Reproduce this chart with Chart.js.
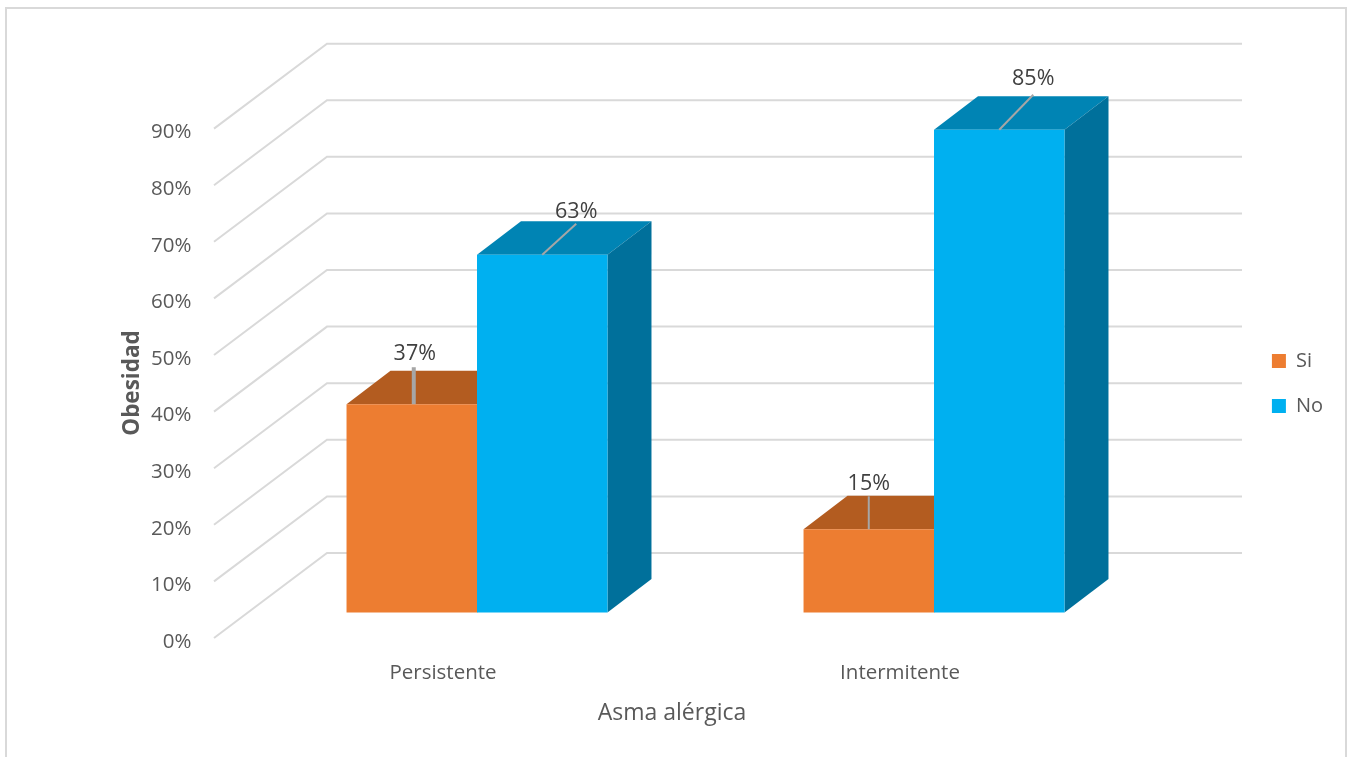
<!DOCTYPE html>
<html>
<head>
<meta charset="utf-8">
<script src="https://cdn.jsdelivr.net/npm/chart.js@4"></script>
<style>
  html, body { margin: 0; background: #fff; overflow: hidden; }
  #frame { position: absolute; left: 5px; top: 7px; width: 1342px; height: 760px; border: 2px solid #d9d9d9; box-sizing: border-box; }
  canvas { position: absolute; left: 0; top: 0; }
</style>
</head>
<body>
<div id="frame"></div>
<canvas id="asmaChart" width="1349" height="757"></canvas>
<script>
const categories = ['Persistente', 'Intermitente'];
const siValues = [36.8, 14.7];
const noValues = [63.2, 85.3];
const yTicks = [0, 10, 20, 30, 40, 50, 60, 70, 80, 90];
const xTitle = 'Asma alérgica';
const yTitle = 'Obesidad';

const font = 'Open Sans';
const textColor = '#595959';

// the fake 3D look: front face is the real bar, the rest is drawn around it
const wallFrontX = 214, wallBackX = 327, wallRightX = 1242;
const wallFrontDy = 25.5, wallBackDy = -59.5;
const depthX = 44, depthY = 33.5;
const faceColors = [
  { top: '#b35c20', side: '#b35c20' },
  { top: '#0084b4', side: '#00709b' }
];
// label shift from the bar centre and top, per dataset and per bar
const labelPlaces = [
  [{ dx: 3, dy: 50, lineX: 2, lineTop: 37, lineW: 4 }, { dx: 0, dy: 45, lineX: 0, lineTop: 33, lineW: 2 }],
  [{ dx: 34, dy: 43, lineX: 34, lineTop: 31, lineW: 2 }, { dx: 34, dy: 51, lineX: 34, lineTop: 35, lineW: 2 }]
];

const wall3d = {
  id: 'wall3d',
  beforeDatasetsDraw(chart) {
    const ctx = chart.ctx;
    const y = chart.scales.y;
    ctx.save();
    ctx.strokeStyle = '#d9d9d9';
    ctx.lineWidth = 2;
    yTicks.forEach(v => {
      const py = y.getPixelForValue(v);
      ctx.beginPath();
      ctx.moveTo(wallFrontX, py + wallFrontDy);
      ctx.lineTo(wallBackX, py + wallBackDy);
      ctx.lineTo(wallRightX, py + wallBackDy);
      ctx.stroke();
    });
    chart.data.datasets.forEach((ds, i) => {
      chart.getDatasetMeta(i).data.forEach(bar => {
        const l = bar.x - bar.width / 2, r = bar.x + bar.width / 2;
        ctx.fillStyle = faceColors[i].top;
        ctx.beginPath();
        ctx.moveTo(l, bar.y);
        ctx.lineTo(l + depthX, bar.y - depthY);
        ctx.lineTo(r + depthX, bar.y - depthY);
        ctx.lineTo(r, bar.y);
        ctx.fill();
        ctx.fillStyle = faceColors[i].side;
        ctx.beginPath();
        ctx.moveTo(r, bar.y);
        ctx.lineTo(r + depthX, bar.y - depthY);
        ctx.lineTo(r + depthX, bar.base - depthY);
        ctx.lineTo(r, bar.base);
        ctx.fill();
      });
    });
    ctx.restore();
  },
  afterDatasetsDraw(chart) {
    const ctx = chart.ctx;
    ctx.save();
    chart.data.datasets.forEach((ds, i) => {
      chart.getDatasetMeta(i).data.forEach((bar, j) => {
        const p = labelPlaces[i][j];
        ctx.strokeStyle = '#a6a6a6';
        ctx.lineWidth = p.lineW;
        ctx.beginPath();
        ctx.moveTo(bar.x + (i ? 0 : p.lineX), bar.y);
        ctx.lineTo(bar.x + p.lineX, bar.y - p.lineTop);
        ctx.stroke();
        ctx.fillStyle = '#404040';
        ctx.font = '21.5px "' + font + '"';
        ctx.textAlign = 'center';
        ctx.textBaseline = 'middle';
        ctx.fillText(Math.round(ds.data[j]) + '%', bar.x + p.dx, bar.y - p.dy);
      });
    });
    ctx.fillStyle = textColor;
    ctx.font = '23px "' + font + '"';
    ctx.textAlign = 'center';
    ctx.textBaseline = 'middle';
    ctx.fillText(xTitle, 672, 713);
    ctx.translate(133, 383);
    ctx.rotate(-Math.PI / 2);
    ctx.font = 'bold 22.5px "' + font + '"';
    ctx.fillText(yTitle, 0, 0);
    ctx.restore();
  }
};

new Chart(document.getElementById('asmaChart'), {
  type: 'bar',
  data: {
    labels: categories,
    datasets: [
      { label: 'Si', data: siValues, backgroundColor: '#ed7d31' },
      { label: 'No', data: noValues, backgroundColor: '#00b0f0' }
    ]
  },
  options: {
    responsive: false,
    animation: false,
    categoryPercentage: 0.571,
    barPercentage: 1,
    layout: { padding: { top: 10, right: 16 } },
    plugins: {
      tooltip: { enabled: false },
      legend: {
        position: 'right',
        labels: {
          boxWidth: 14,
          boxHeight: 14,
          padding: 25,
          color: textColor,
          font: { family: font, size: 20 }
        }
      }
    },
    scales: {
      x: {
        grid: { display: false },
        border: { display: false },
        afterFit: s => { s.height = 116.2; },
        ticks: {
          color: textColor,
          font: { family: font, size: 20.5 },
          labelOffset: -34,
          padding: 12,
          maxRotation: 0
        }
      },
      y: {
        min: -5,
        max: 97.39,
        grid: { display: false },
        border: { display: false },
        afterBuildTicks: s => { s.ticks = yTicks.map(v => ({ value: v })); },
        afterFit: s => { s.width = 248.5; },
        ticks: {
          color: textColor,
          font: { family: font, size: 20.5 },
          labelOffset: 29.5,
          padding: 49,
          callback: v => v + '%'
        }
      },
      pad: {
        axis: 'y',
        position: 'right',
        grid: { display: false },
        border: { display: false },
        ticks: { display: false },
        afterFit: s => { s.width = 84.4; }
      }
    }
  },
  plugins: [wall3d]
});
</script>
</body>
</html>
